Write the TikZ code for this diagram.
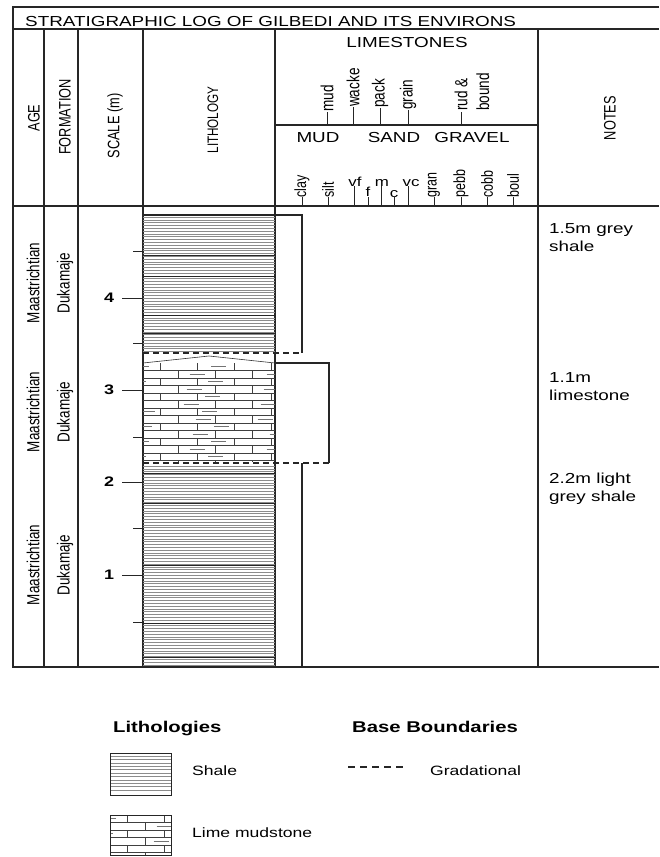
\documentclass[tikz,border=0pt]{standalone}
\usepackage{fontspec}
\setmainfont{Liberation Sans}
\newfontfamily\widefont[FakeStretch=1.3]{Liberation Sans}
\newfontfamily\tallfont[FakeStretch=0.77]{Liberation Sans}
\newcommand\fsz[1]{\fontsize{#1}{1.24\dimexpr #1pt\relax}\selectfont}

% brick pattern of the lime mudstone, clipped to a rectangle
\newcommand\limepattern[4]{%
  \begin{scope}
    \clip (#1,#2) rectangle (#3,#4);
    \foreach \r in {0,...,14} {
      \pgfmathsetmacro\ya{#2+7.5*\r}
      \pgfmathsetmacro\yb{\ya+7.5}
      \pgfmathsetmacro\off{mod(\r,2)==0 ? 17 : 35.5}
      \draw[brk] (#1,\yb) -- (#3,\yb);
      \foreach \k in {-1,0,1,2,3} {
        \pgfmathsetmacro\xj{#1+\off+37*\k}
        \draw[brk] (\xj,\ya) -- (\xj,\yb);
        \pgfmathtruncatemacro\pick{mod(\r+\k+5,2)}
        \ifnum\pick=0
          \pgfmathsetmacro\sh{3*(mod(\r*7+\k*3+20,5)-2)}
          \draw[mudd] (\xj+11+\sh,\ya+3.4) -- (\xj+26+\sh,\ya+3.4);
        \fi
      }
    }
  \end{scope}}

\tikzset{
  frame/.style={draw=black!85, line width=1.1pt},
  grad/.style={line width=1.2pt, draw=black!85, dash pattern=on 6pt off 4pt},
  shl/.style={line width=0.45pt, draw=black!45},
  shd/.style={line width=0.8pt, draw=black!85},
  brk/.style={line width=0.6pt, draw=black!75},
  mudd/.style={line width=0.7pt, draw=black!55},
  tickln/.style={line width=0.9pt, draw=black!85},
  rot/.style={rotate=90, inner sep=0pt},
  plain/.style={inner sep=0pt},
  head/.style={plain, font=\widefont\fsz{14.5}},
  rhead/.style={rot, font=\tallfont\fsz{16.6}},
  note/.style={plain, anchor=north west, align=left, font=\widefont\fsz{14.5}},
  legtext/.style={plain, anchor=west, font=\widefont\fsz{13.5}},
  legtitle/.style={plain, anchor=base west, font=\widefont\bfseries\fsz{15.6}},
}

\begin{document}
\begin{tikzpicture}[x=1pt,y=-1pt]
\useasboundingbox (0,0) rectangle (659,857);
\fill[white] (0,0) rectangle (659,857);

% ---------- frame and columns ----------
\draw[frame] (659,7) -- (13,7) -- (13,667) -- (659,667);
\draw[frame] (13,29) -- (659,29);
\draw[frame] (13,206) -- (659,206);
\foreach \cx in {44,78,143,275,538} \draw[frame] (\cx,29) -- (\cx,667);
\draw[frame] (275,125) -- (538,125);

% ---------- header text ----------
\node[head, anchor=west] (title) at (25,22) {STRATIGRAPHIC LOG OF GILBEDI AND ITS ENVIRONS};
\node[rhead] (hage)  at (34,118) {AGE};
\node[rhead] (hform) at (65,117) {FORMATION};
\node[rhead] (hscale) at (115,126) {SCALE (m)};
\node[rhead, font=\tallfont\fsz{15.2}] (hlith) at (213,120) {LITHOLOGY};
\node[rhead] (hnotes) at (610,118) {NOTES};
\node[head] (hlime) at (407,43) {LIMESTONES};
\node[head] (hmud) at (318,138) {MUD};
\node[head] (hsand) at (394,138) {SAND};
\node[head] (hgravel) at (472,138) {GRAVEL};

% limestone texture scale
\foreach \tx/\tt/\nm in {327/112/mud, 353/107/wacke, 380/108/pack, 408/110/grain} {
  \draw[tickln] (\tx,125) -- (\tx,\tt);
  \node[rot, anchor=west, font=\tallfont\fsz{17.6}] (l\nm) at (\tx,\tt) {\nm};
}
\draw[tickln] (461,125) -- (461,112);
\node[rot, anchor=west, align=left, font=\tallfont\fsz{17.6}] (lrud) at (472,111) {rud \&\\bound};

% clastic grain-size scale
\foreach \tx/\nm in {302/clay, 328/silt, 434/gran, 461/pebb, 487/cobb, 513/boul} {
  \draw[tickln] (\tx,206) -- (\tx,197);
  \node[rot, anchor=west, font=\tallfont\fsz{16.2}] (g\nm) at (\tx,197.5) {\nm};
}
\foreach \tx/\tt/\nm in {354/186/vf, 381/186/m, 408/186/vc, 368/197/f, 394/197/c} {
  \draw[tickln] (\tx,206) -- (\tx,\tt);
}
\tikzset{gl/.style={plain, anchor=south, font=\widefont\fsz{13}}}
\node[gl] (gvf) at (355,187) {vf};
\node[gl] (gm)  at (382,187) {m};
\node[gl] (gvc) at (411,187) {vc};
\node[gl] (gf)  at (368,197) {f};
\node[gl] (gc)  at (394,198) {c};

% ---------- age / formation ----------
\foreach \yy/\k in {283/1, 412/2, 565/3} {
  \node[rot, font=\tallfont\fsz{17.5}] (age\k) at (33,\yy) {Maastrichtian};
  \node[rot, font=\tallfont\fsz{17.5}] (fm\k) at (65,\yy) {Dukamaje};
}

% ---------- depth scale ----------
\foreach \yy/\v in {298/4, 390/3, 482/2, 575/1} {
  \draw[tickln] (122,\yy) -- (143,\yy);
  \node[plain, font=\widefont\bfseries\fsz{13.8}] (s\v) at (109,\yy) {\v};
}
\foreach \yy in {251,343,437,528,622} \draw[tickln] (133,\yy) -- (143,\yy);

% ---------- lithology column ----------
% shale, upper bed
\foreach \yy in {217,219.8,...,352} \draw[shl] (143,\yy) -- (275,\yy);
\foreach \yy in {255,276,315,333} \draw[shd] (143,\yy) -- (275,\yy);
% lime mudstone
\limepattern{143}{363}{275}{461}
\draw[line width=0.6pt, black!80] (143,363) -- (209,356) -- (275,363);
% shale, lower bed
\foreach \yy in {466,468.8,...,666} \draw[shl] (143,\yy) -- (275,\yy);
\foreach \yy in {473,503,565,623,657} \draw[shd] (143,\yy) -- (275,\yy);

% grain-size profile of each bed
\draw[frame] (143,215) -- (302,215) -- (302,353);
\draw[grad] (143,353) -- (302,353);
\draw[frame] (275,363) -- (329,363) -- (329,463);
\draw[grad] (143,463) -- (329,463);
\draw[frame] (302,463) -- (302,667);

% ---------- notes ----------
\node[note] (n1) at (549,223) {1.5m grey\\shale};
\node[note] (n2) at (549,372) {1.1m\\limestone};
\node[note] (n3) at (549,473) {2.2m light\\grey shale};

% ---------- legend ----------
\node[legtitle] (legl) at (113,732) {Lithologies};
\node[legtitle] (legb) at (352,732) {Base Boundaries};
\foreach \yy in {756,759.4,...,793} \draw[shl] (110,\yy) -- (171,\yy);
\draw[line width=1pt, black!85] (110,753) rectangle (171,795);
\node[legtext] (legsh) at (192,771) {Shale};
\limepattern{110}{815}{171}{855}
\draw[line width=1pt, black!85] (110,815) rectangle (171,855);
\node[legtext] (legls) at (192,833) {Lime mudstone};
\draw[line width=1.2pt, black!85, dash pattern=on 7pt off 5pt] (348,767) -- (404,767);
\node[legtext] (leggr) at (430,771) {Gradational};
\end{tikzpicture}
\end{document}
